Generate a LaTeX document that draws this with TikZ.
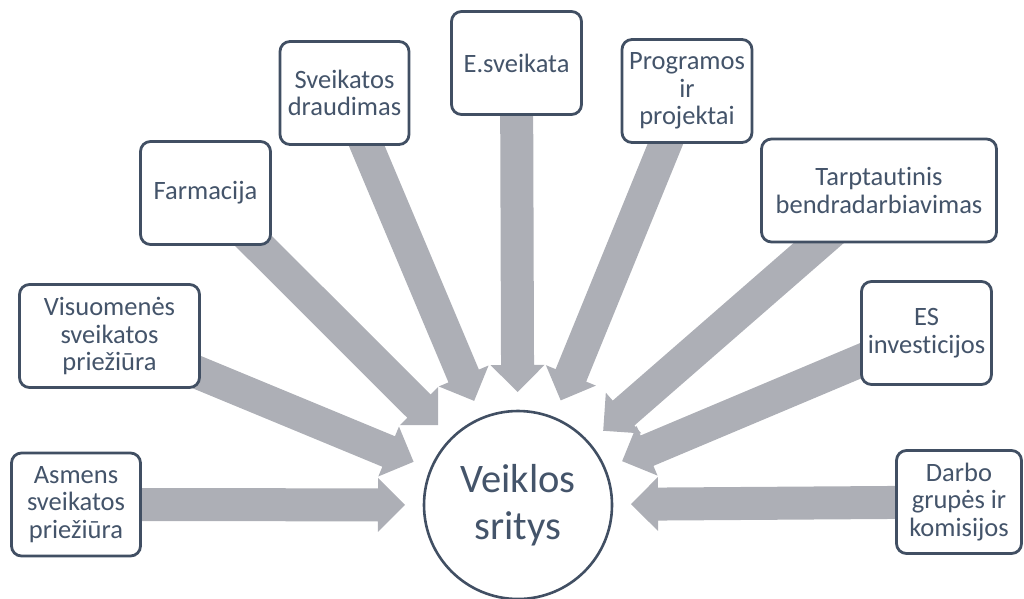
\documentclass[tikz,border=0pt]{standalone}
\usepackage{fontspec}
\setmainfont[Ligatures=NoCommon]{Carlito}
\usetikzlibrary{calc,backgrounds}
\definecolor{txt}{HTML}{44546A}
\definecolor{bord}{HTML}{414F63}
\definecolor{arr}{HTML}{ADAFB6}
\tikzset{
  box/.style={draw=bord, line width=2.8pt, rounded corners=10pt, fill=white,
    text=txt, align=center, minimum height=103pt, inner sep=2pt,
    font=\fontsize{26.5pt}{27.7pt}\selectfont},
  hub/.style={circle, draw=bord, line width=2.6pt, fill=white, text=txt,
    minimum size=188pt, inner sep=0pt, align=center,
    font=\fontsize{40.5pt}{47pt}\selectfont},
  arrowfill/.style={fill=arr}
}
\newcommand\blockarrow[1]{%
  \coordinate (T) at ($(ctr)!113pt!(#1)$);
  \coordinate (H) at ($(ctr)!140pt!(#1)$);
  \fill[arrowfill] ($(#1)!16.5pt!90:(ctr)$) -- ($(H)!16.5pt!90:(ctr)$)
    -- ($(H)!27pt!90:(ctr)$) -- (T) -- ($(H)!27pt!-90:(ctr)$)
    -- ($(H)!16.5pt!-90:(ctr)$) -- ($(#1)!16.5pt!-90:(ctr)$) -- cycle;
}
\begin{document}
\begin{tikzpicture}[x=1pt,y=-1pt]
\useasboundingbox (0,0) rectangle (1024,598);
\node[hub] (ctr) at (518,505) {Veiklos\\sritys};
\node[box, minimum width=129pt] (b1) at (76,504.5) {Asmens\\sveikatos\\priežiūra};
\node[box, minimum width=180pt] (b2) at (109.5,336) {Visuomenės\\sveikatos\\priežiūra};
\node[box, minimum width=130pt] (b3) at (205.5,193) {Farmacija};
\node[box, minimum width=129pt] (b4) at (344.5,93) {Sveikatos\\draudimas};
\node[box, minimum width=130pt] (b5) at (516.5,63) {E.sveikata};
\node[box, minimum width=130pt] (b6) at (687,91) {Programos\\ir\\projektai};
\node[box, minimum width=235pt] (b7) at (879,190.5) {Tarptautinis\\bendradarbiavimas};
\node[box, minimum width=130pt] (b8) at (926.5,333) {ES\\investicijos};
\node[box, minimum width=125pt] (b9) at (959,502) {Darbo\\grupės ir\\komisijos};
\begin{scope}[on background layer]
\foreach \b in {b1,b2,b3,b4,b5,b6,b7,b8,b9}{\blockarrow{\b}}
\end{scope}
\end{tikzpicture}
\end{document}
